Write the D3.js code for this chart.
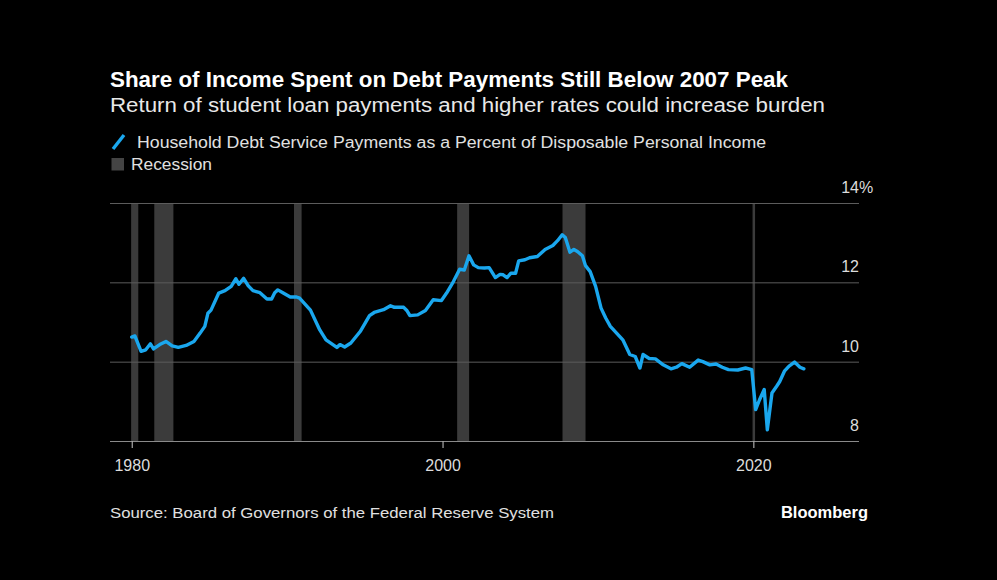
<!DOCTYPE html>
<html>
<head>
<meta charset="utf-8">
<script src="https://cdn.jsdelivr.net/npm/d3@7"></script>
<style>
  html, body { margin: 0; padding: 0; background: #000; }
  svg { display: block; }
  text { font-family: "Liberation Sans", Arial, Helvetica, sans-serif; }
</style>
</head>
<body>
<svg id="chart" width="997" height="580"></svg>
<script>
// ---- Data ----
const years = [
  1980.0, 1980.2, 1980.6, 1980.9, 1981.2, 1981.4, 1981.8, 1982.2, 1982.6, 1983.0,
  1983.5, 1984.0, 1984.4, 1984.7, 1984.9, 1985.1, 1985.6, 1986.0, 1986.4, 1986.7,
  1986.9, 1987.2, 1987.5, 1987.8, 1988.25, 1988.7, 1989.0, 1989.2, 1989.4, 1989.75,
  1990.2, 1990.6, 1990.8, 1991.5, 1992.1, 1992.5, 1993.2, 1993.4, 1993.7, 1994.1,
  1994.7, 1995.3, 1995.6, 1996.2, 1996.65, 1996.9, 1997.5, 1997.7, 1997.9, 1998.4,
  1998.9, 1999.4, 1999.93, 2000.26, 2000.7, 2001.1, 2001.4, 2001.7, 2002.0, 2002.3,
  2002.7, 2003.0, 2003.4, 2003.7, 2003.9, 2004.15, 2004.4, 2004.7, 2004.9, 2005.3,
  2005.6, 2006.1, 2006.6, 2007.1, 2007.4, 2007.7, 2007.9, 2008.2, 2008.45, 2008.7,
  2009.0, 2009.2, 2009.5, 2009.85, 2010.2, 2010.5, 2010.8, 2011.2, 2011.6, 2012.05,
  2012.4, 2012.7, 2012.9, 2013.3, 2013.7, 2014.2, 2014.7, 2015.05, 2015.4, 2015.9,
  2016.45, 2016.75, 2017.2, 2017.6, 2018.0, 2018.4, 2019.0, 2019.5, 2019.9, 2020.15,
  2020.4, 2020.7, 2020.9, 2021.2, 2021.5, 2021.7, 2022.0, 2022.3, 2022.65, 2023.0,
  2023.25
];
const debtService = [
  10.62, 10.65, 10.26, 10.30, 10.45, 10.32, 10.43, 10.51, 10.40, 10.36,
  10.41, 10.51, 10.72, 10.89, 11.22, 11.30, 11.73, 11.79, 11.90, 12.09,
  11.95, 12.10, 11.91, 11.79, 11.74, 11.58, 11.58, 11.74, 11.81, 11.73,
  11.63, 11.63, 11.60, 11.30, 10.80, 10.55, 10.36, 10.43, 10.37, 10.47,
  10.76, 11.16, 11.24, 11.31, 11.41, 11.37, 11.37, 11.29, 11.16, 11.18,
  11.29, 11.56, 11.54, 11.73, 12.02, 12.33, 12.31, 12.67, 12.44, 12.37,
  12.36, 12.37, 12.12, 12.20, 12.19, 12.12, 12.23, 12.23, 12.54, 12.57,
  12.62, 12.65, 12.83, 12.93, 13.05, 13.20, 13.13, 12.76, 12.83, 12.77,
  12.67, 12.42, 12.27, 11.90, 11.35, 11.10, 10.89, 10.72, 10.55, 10.18,
  10.13, 9.84, 10.18, 10.08, 10.07, 9.92, 9.82, 9.86, 9.95, 9.86,
  10.04, 10.00, 9.92, 9.94, 9.86, 9.80, 9.79, 9.84, 9.80, 8.79,
  9.04, 9.30, 8.28, 9.21, 9.38, 9.50, 9.76, 9.89, 9.99, 9.86,
  9.82
];
const recessionStart = [1979.96, 1981.45, 1990.44, 2000.94, 2007.72, 2019.95];
const recessionEnd   = [1980.42, 1982.68, 1990.93, 2001.71, 2009.20, 2020.10];
const xTicks = [1980, 2000, 2020];
const yTicks = [8, 10, 12, 14];
const yTickLabels = ["8", "10", "12", "14%"];

const titleText = "Share of Income Spent on Debt Payments Still Below 2007 Peak";
const subtitleText = "Return of student loan payments and higher rates could increase burden";
const seriesName = "Household Debt Service Payments as a Percent of Disposable Personal Income";
const recessionName = "Recession";
const sourceText = "Source: Board of Governors of the Federal Reserve System";

// ---- Layout ----
const svg = d3.select("#chart");
const plotLeft = 110, plotRight = 859, plotTop = 203, plotBottom = 441;
const x = d3.scaleLinear().domain([1978.6, 2026.8]).range([plotLeft, plotRight]);
const y = d3.scaleLinear().domain([8, 14]).range([plotBottom, plotTop]);

svg.append("rect").attr("width", 997).attr("height", 580).attr("fill", "#000");

// Title / subtitle
svg.append("text").attr("x", 110).attr("y", 86.5)
  .attr("fill", "#fff").attr("font-size", 22).attr("font-weight", "bold")
  .attr("textLength", 678).attr("lengthAdjust", "spacingAndGlyphs")
  .text(titleText);
svg.append("text").attr("x", 110).attr("y", 112)
  .attr("fill", "#e8e8e8").attr("font-size", 19.5)
  .attr("textLength", 715).attr("lengthAdjust", "spacingAndGlyphs")
  .text(subtitleText);

// Legend
svg.append("line").attr("x1", 113).attr("y1", 149).attr("x2", 124).attr("y2", 135)
  .attr("stroke", "#1aa7ee").attr("stroke-width", 3.4).attr("stroke-linecap", "butt");
svg.append("text").attr("x", 137).attr("y", 148)
  .attr("fill", "#e0e0e0").attr("font-size", 16)
  .attr("textLength", 629).attr("lengthAdjust", "spacingAndGlyphs")
  .text(seriesName);
svg.append("rect").attr("x", 111.5).attr("y", 158).attr("width", 12.5).attr("height", 12.5)
  .attr("fill", "#444");
svg.append("text").attr("x", 131).attr("y", 170)
  .attr("fill", "#e0e0e0").attr("font-size", 16)
  .attr("textLength", 81).attr("lengthAdjust", "spacingAndGlyphs")
  .text(recessionName);

// Recession bands
svg.append("g").selectAll("rect")
  .data(recessionStart.map((s, i) => ({ s, e: recessionEnd[i] })))
  .join("rect")
  .attr("x", d => x(d.s))
  .attr("y", plotTop)
  .attr("width", d => Math.max(2.5, x(d.e) - x(d.s)))
  .attr("height", plotBottom - plotTop)
  .attr("fill", "#3b3b3b");

// Gridlines
svg.append("g").selectAll("line")
  .data(yTicks.filter(t => t !== 8))
  .join("line")
  .attr("x1", plotLeft).attr("x2", plotRight)
  .attr("y1", d => y(d) + 0.5).attr("y2", d => y(d) + 0.5)
  .attr("stroke", "#5c5c5c").attr("stroke-width", 1);

// Y labels (numbers right-aligned at plot edge; % hangs outside)
const yLabels = svg.append("g");
yTicks.forEach((d, i) => {
  const lbl = yTickLabels[i];
  const num = lbl.replace("%", "");
  const tmp = yLabels.append("text").attr("font-size", 16).text(num);
  const w = tmp.node().getComputedTextLength();
  tmp.remove();
  yLabels.append("text")
    .attr("x", plotRight - w)
    .attr("y", y(d) - 10)
    .attr("fill", "#dcdcdc").attr("font-size", 16)
    .text(lbl);
});

// X axis
const xAxis = d3.axisBottom(x).tickValues(xTicks).tickFormat(d3.format("d")).tickSize(7).tickSizeOuter(0);
const gx = svg.append("g").attr("transform", `translate(0,${plotBottom})`).call(xAxis);
gx.select(".domain").attr("stroke", "#8a8a8a").attr("stroke-width", 1.2)
  .attr("d", `M${plotLeft},0.5H${plotRight}`);
gx.selectAll(".tick line").attr("stroke", "#aaa").attr("stroke-width", 1.2);
gx.selectAll(".tick text").attr("fill", "#dcdcdc").attr("font-size", 16)
  .attr("font-family", "'Liberation Sans', Arial, sans-serif").attr("y", 19).attr("dy", "0.71em");

// Line
const line = d3.line().x((d, i) => x(years[i])).y(d => y(d)).curve(d3.curveLinear);
svg.append("path")
  .datum(debtService)
  .attr("d", line)
  .attr("fill", "none")
  .attr("stroke", "#1aa7ee")
  .attr("stroke-width", 3.4)
  .attr("stroke-linejoin", "round")
  .attr("stroke-linecap", "round");

// Footer
svg.append("text").attr("x", 110).attr("y", 517.5)
  .attr("fill", "#e0e0e0").attr("font-size", 15.5)
  .attr("textLength", 444).attr("lengthAdjust", "spacingAndGlyphs")
  .text(sourceText);
svg.append("text").attr("x", 868).attr("y", 517.5)
  .attr("fill", "#fff").attr("font-size", 16.5).attr("font-weight", "bold")
  .attr("text-anchor", "end")
  .text("Bloomberg");
</script>
</body>
</html>
